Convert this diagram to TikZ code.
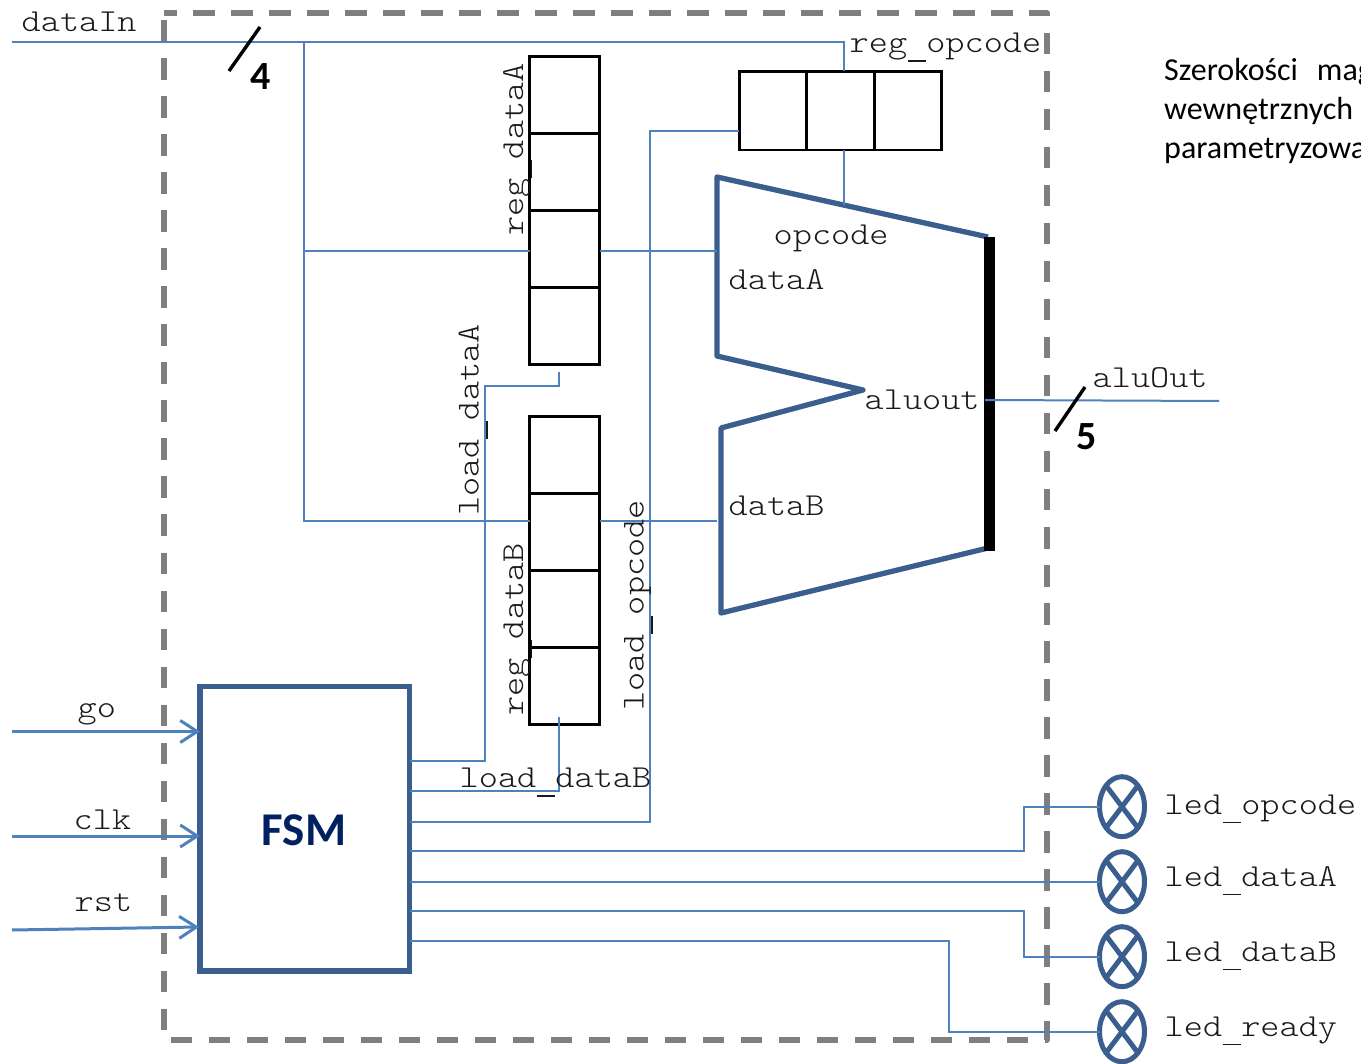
\documentclass[tikz,border=0pt]{standalone}
\usepackage{fontspec}
\setmainfont{Carlito}
\setmonofont[FakeStretch=1.14]{Latin Modern Mono Light}
\usetikzlibrary{arrows.meta,shapes.geometric}
\definecolor{wire}{HTML}{4F81BD}
\definecolor{navy}{HTML}{3A5F8F}
\definecolor{dashgray}{HTML}{7F7F7F}
\definecolor{fsmtext}{HTML}{002060}
\newcommand{\ubar}{\makebox[19.15pt]{\rule[-9.2pt]{18pt}{1.7pt}}}
\tikzset{
  wireline/.style={draw=wire,line width=2pt},
  inarrow/.style={draw=wire,line width=3pt,-{Straight Barb[length=17pt,width=22pt,line width=3pt]}},
  regbox/.style={draw=black,line width=2.8pt,minimum width=70pt,minimum height=77pt,inner sep=0pt,outer sep=0pt},
  opbox/.style={draw=black,line width=2.8pt,minimum width=67.7pt,minimum height=78.5pt,inner sep=0pt,outer sep=0pt},
  lab/.style={font=\ttfamily\fontsize{32}{32}\selectfont,anchor=base west,inner sep=0pt,text=black!90},
  rlab/.style={font=\ttfamily\fontsize{32}{32}\selectfont,anchor=base,inner sep=0pt,rotate=90,text=black!90},
  led/.style={ellipse,draw=navy,line width=5pt,minimum width=45pt,minimum height=60pt,inner sep=0pt,outer sep=0pt},
  ledx/.style={draw=navy,line width=5pt},
  slash/.style={draw=black,line width=3.4pt},
  busnum/.style={font=\bfseries\fontsize{40}{40}\selectfont,inner sep=0pt},
  note/.style={font=\fontsize{32}{32}\selectfont,anchor=base west,inner sep=0pt,text=black}
}
\begin{document}
\begin{tikzpicture}[x=1pt,y=-1pt]
\useasboundingbox (0,0) rectangle (1361,1064);
\clip (0,0) rectangle (1361,1064);
% outer dashed box
\draw[dashgray,line width=5.5pt,dash pattern=on 21.5pt off 16.5pt,dash phase=9pt,line join=round] (164,13) -- (1047,13) -- (1047,1040) -- (164,1040) -- cycle;

% registers
\foreach \n/\y in {a1/95,a2/172,a3/249,a4/326,b1/455,b2/532,b3/609,b4/686}
  \node[regbox] (\n) at (564.5,\y) {};
\foreach \n/\x in {o1/773,o2/840.5,o3/908}
  \node[opbox] (\n) at (\x,110.75) {};

% FSM
\node[draw=navy,line width=5.3pt,minimum width=209.5pt,minimum height=284.5pt,inner sep=0pt,outer sep=0pt] (fsm) at (304.75,828.75) {};
\node[font=\bfseries\fontsize{47}{47}\selectfont,text=fsmtext,inner sep=0pt] (fsmlabel) at (304,830) {FSM};

% ALU
\draw[navy,line width=5.3pt,line join=round] (988,237) -- (717,177) -- (717,356) -- (863,390) -- (721,428) -- (721,613) -- (988,548);
\coordinate (aluTop) at (989.5,237);
\coordinate (aluBot) at (989.5,551);
\draw[black,line width=11pt] (aluTop) -- (aluBot);

% coordinates of wires
\coordinate (inL) at (12,42);
\coordinate (tap) at (304,42);
\coordinate (opTop) at (844,42);
\coordinate (tapA) at (304,251);
\coordinate (tapB) at (304,521);
\coordinate (aluA) at (717,251);
\coordinate (aluB) at (717,521);
\coordinate (aluOp) at (844,205);
\coordinate (aluO1) at (985,400);
\coordinate (aluO2) at (1219,401);

\draw[wireline] (inL) -- (opTop) -- (o2.north -| opTop);
\draw[wireline] (tap) -- (tapB) -- (b2.west |- tapB);
\draw[wireline] (tapA) -- (a3.west |- tapA);
\draw[wireline] (a3.east |- aluA) -- (aluA);
\draw[wireline] (b2.east |- aluB) -- (aluB);
\draw[wireline] (o2.south -| aluOp) -- (aluOp);
\draw[wireline] (aluO1) -- (aluO2);

% FSM output wires
\coordinate (la) at (559,372);
\coordinate (lb) at (559,717);
\coordinate (lo) at (739,131);
\draw[wireline] (fsm.east |- 0,761) -- (485,761) -- (485,386) -- (559,386) -- (la);
\draw[wireline] (fsm.east |- 0,791) -- (559,791) -- (lb);
\draw[wireline] (fsm.east |- 0,822) -- (650,822) -- (650,131) -- (lo);

% LEDs
\foreach \n/\y in {l1/806.7,l2/881.7,l3/956.7,l4/1031.7}{
  \node[led] (\n) at (1122,\y) {};
  \draw[ledx] (\n.53) -- (\n.233);
  \draw[ledx] (\n.127) -- (\n.307);
}
\draw[wireline] (fsm.east |- 0,851) -- (1024,851) -- (1024,806.7) -- (l1.west);
\draw[wireline] (fsm.east |- 0,881.7) -- (l2.west);
\draw[wireline] (fsm.east |- 0,911) -- (1024,911) -- (1024,956.7) -- (l3.west);
\draw[wireline] (fsm.east |- 0,941) -- (949,941) -- (949,1031.7) -- (l4.west);

% inputs
\coordinate (go0) at (12,731.5);
\coordinate (clk0) at (12,836);
\coordinate (rst0) at (12,930);
\draw[inarrow] (go0) -- (fsm.west |- go0);
\draw[inarrow] (clk0) -- (fsm.west |- clk0);
\draw[inarrow] (rst0) -- (199,927);

% bus slashes
\coordinate (s4a) at (229,71); \coordinate (s4b) at (260,27);
\coordinate (s5a) at (1055,431); \coordinate (s5b) at (1085,387);
\draw[slash] (s4a) -- (s4b);
\draw[slash] (s5a) -- (s5b);
\node[busnum] (n4) at (261,77) {4};
\node[busnum] (n5) at (1087,437) {5};

% labels
\node[lab] (tdataIn) at (21.5,32) {dataIn};
\node[lab] (tregop) at (849.5,53) {reg\ubar opcode};
\node[lab] (topcode) at (773.5,245) {opcode};
\node[lab] (tdataA) at (728.5,290) {dataA};
\node[lab] (tdataB) at (728.5,515) {dataB};
\node[lab] (taluout) at (864.5,410) {aluout};
\node[lab] (taluOut) at (1092.5,388) {aluOut};
\node[lab] (tgo) at (77.5,717) {go};
\node[lab] (tclk) at (73.5,829.5) {clk};
\node[lab] (trst) at (74.5,911.5) {rst};
\node[lab] (tloadB) at (459.5,787.5) {load\ubar dataB};
\node[lab] (tl1) at (1164.5,814) {led\ubar opcode};
\node[lab] (tl2) at (1164.5,886) {led\ubar dataA};
\node[lab] (tl3) at (1164.5,961) {led\ubar dataB};
\node[lab] (tl4) at (1164.5,1036) {led\ubar ready};
\node[rlab] (tregA) at (523,149.5) {reg\ubar dataA};
\node[rlab] (tregB) at (523,629.5) {reg\ubar dataB};
\node[rlab] (tloadA) at (478.5,420) {load\ubar dataA};
\node[rlab] (tloadO) at (643.5,605.5) {load\ubar opcode};

% note
\node[note] (n1) at (1164,81) {Szerokości\hspace{19pt}mag};
\node[note] (n2) at (1164,120) {wewnętrznych};
\node[note] (n3) at (1164,159) {parametryzowa};
\end{tikzpicture}
\end{document}
